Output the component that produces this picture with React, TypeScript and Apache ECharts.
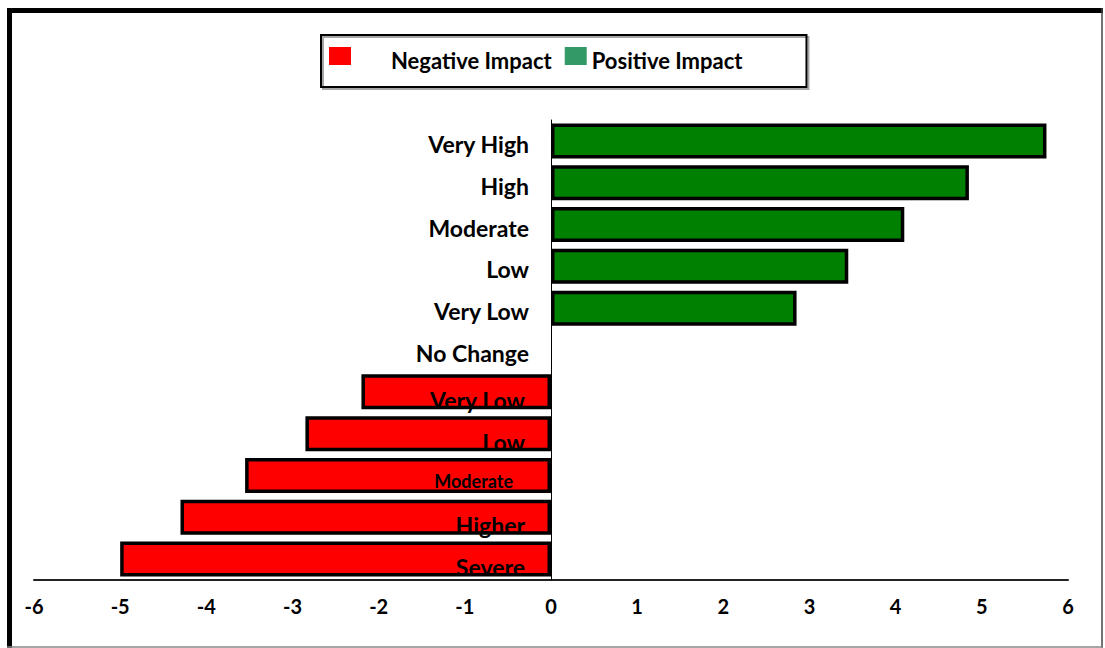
import React, { useEffect, useRef } from "react";
import * as echarts from "echarts";

const categories = [
  "Very High",
  "High",
  "Moderate",
  "Low",
  "Very Low",
  "No Change",
  "Very Low",
  "Low",
  "Moderate",
  "Higher",
  "Severe",
];
const positiveValues: (number | string)[] = [5.75, 4.85, 4.1, 3.45, 2.85, "-", "-", "-", "-", "-", "-"];
const negativeValues: (number | string)[] = ["-", "-", "-", "-", "-", "-", -2.2, -2.85, -3.55, -4.3, -5.0];
const seriesNames = ["Negative Impact", "Positive Impact"];
const FONT = "Lato, 'Open Sans', sans-serif";

export default function App() {
  const ref = useRef<HTMLDivElement>(null);
  useEffect(() => {
    if (!ref.current) return;
    const chart = echarts.init(ref.current, undefined, { renderer: "svg" });
    const labelStyle = (idx: number) => {
      if (idx < 6) return "p";
      if (categories[idx] === "Moderate") return "m";
      return "n";
    };
    chart.setOption({
      animation: false,
      backgroundColor: "#ffffff",
      textStyle: { fontFamily: FONT },
      graphic: [
        { type: "line", shape: { x1: 7, y1: 10.5, x2: 1103, y2: 10.5 }, style: { stroke: "#000", lineWidth: 5 } },
        { type: "line", shape: { x1: 9.5, y1: 8, x2: 9.5, y2: 648 }, style: { stroke: "#000", lineWidth: 5 } },
        { type: "line", shape: { x1: 1102, y1: 8, x2: 1102, y2: 648 }, style: { stroke: "#444", lineWidth: 1.5 } },
        { type: "line", shape: { x1: 7, y1: 647, x2: 1103, y2: 647 }, style: { stroke: "#888", lineWidth: 1.5 } },
      ],
      legend: {
        left: 321,
        top: 35,
        selectedMode: false,
        icon: "rect",
        itemWidth: 22,
        itemHeight: 18,
        itemGap: 13,
        padding: [12, 64, 16, 8],
        borderColor: "#000",
        borderWidth: 2,
        shadowColor: "rgba(0,0,0,0.35)",
        shadowOffsetX: 2,
        shadowOffsetY: 2,
        shadowBlur: 0,
        data: [
          { name: seriesNames[0], itemStyle: { color: "#FF0000", borderWidth: 0 } },
          { name: seriesNames[1], itemStyle: { color: "#339966", borderWidth: 0 } },
        ],
        formatter: (name: string) => (name === seriesNames[0] ? `{n|${name}}` : `{p|${name}}`),
        textStyle: {
          fontFamily: FONT,
          fontWeight: "bold",
          fontSize: 22,
          color: "#000",
          rich: {
            n: { fontFamily: FONT, fontWeight: "bold", fontSize: 22, color: "#000", padding: [8, 0, 0, 35] },
            p: { fontFamily: FONT, fontWeight: "bold", fontSize: 22, color: "#000", padding: [8, 0, 0, 0] },
          },
        },
      },
      grid: { left: 34, right: 37, top: 120, bottom: 68, containLabel: false, outerBoundsMode: "none" },
      xAxis: {
        type: "value",
        min: -6,
        max: 6,
        interval: 1,
        axisLine: { show: true, onZero: false, lineStyle: { color: "#222", width: 2 } },
        axisTick: { show: false },
        splitLine: { show: false },
        axisLabel: {
          show: true,
          showMinLabel: true,
          showMaxLabel: true,
          margin: 16,
          fontFamily: FONT,
          fontWeight: "bold",
          fontSize: 20,
          color: "#000",
        },
      },
      yAxis: {
        type: "category",
        inverse: true,
        data: categories,
        z: 10,
        offset: -517,
        axisLine: { show: true, onZero: false, lineStyle: { color: "#000", width: 1 } },
        axisTick: { show: false },
        splitLine: { show: false },
        axisLabel: {
          margin: 22,
          interval: 0,
          formatter: (value: string, idx: number) => `{${labelStyle(idx)}|${value}}`,
          rich: {
            p: { fontFamily: FONT, fontWeight: "bold", fontSize: 23, color: "#000", padding: [6, 0, 0, 0] },
            n: { fontFamily: FONT, fontWeight: "bold", fontSize: 23, color: "#000", padding: [16, 4, 0, 0] },
            m: { fontFamily: FONT, fontWeight: "bold", fontSize: 18, color: "#000", padding: [12, 16, 0, 0] },
          },
        },
      },
      series: [
        {
          name: seriesNames[0],
          type: "bar",
          stack: "impact",
          barWidth: 35,
          data: negativeValues,
          itemStyle: { color: "#FF0000", borderColor: "#000", borderWidth: 3.5 },
        },
        {
          name: seriesNames[1],
          type: "bar",
          stack: "impact",
          barWidth: 35,
          data: positiveValues,
          itemStyle: { color: "#008000", borderColor: "#000", borderWidth: 3.5 },
        },
      ],
    });
    return () => chart.dispose();
  }, []);
  return (
    <div
      ref={ref}
      style={{ position: "fixed", left: 0, top: 0, width: 1105, height: 648 }}
    />
  );
}
